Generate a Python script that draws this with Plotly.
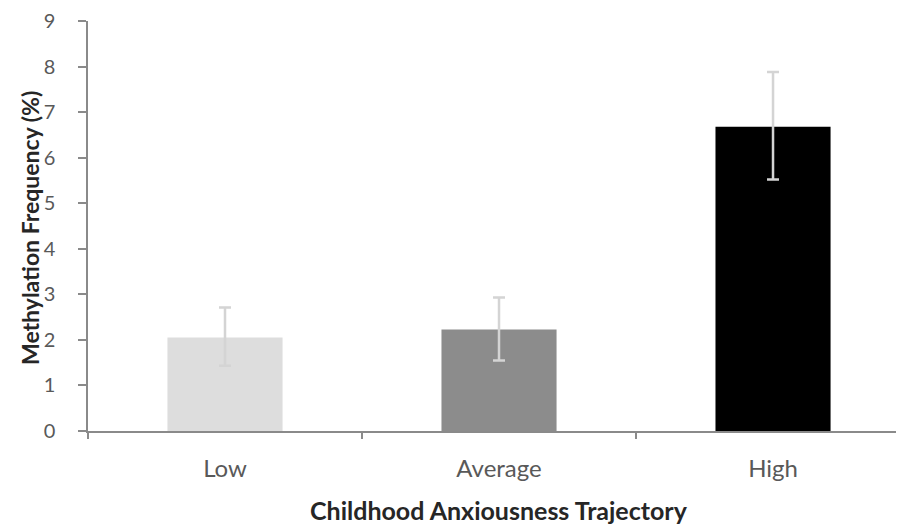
import plotly.graph_objects as go

categories = ["Low", "Average", "High"]
values = [2.05, 2.23, 6.68]
err_plus = [0.66, 0.70, 1.20]
err_minus = [0.62, 0.68, 1.16]
bar_colors = ["#dddddd", "#8c8c8c", "#000000"]
y_ticks = [0, 1, 2, 3, 4, 5, 6, 7, 8, 9]
x_title = "Childhood Anxiousness Trajectory"
y_title = "Methylation Frequency (%)"

W, H = 904, 528
OFF = 8  # page body offset
L, T, R, B = 88 - OFF, 21 - OFF, OFF, H - (431 - OFF)
PW, PH = W - L - R, H - T - B

fig = go.Figure()
fig.add_trace(go.Bar(
    x=categories, y=values,
    marker=dict(color=bar_colors, line=dict(width=0)),
    width=0.42,
    error_y=dict(type="data", symmetric=False, array=err_plus, arrayminus=err_minus,
                 color="#d4d4d4", thickness=2.5, width=6),
))

fig.update_layout(
    width=W, height=H,
    margin=dict(l=L, r=R, t=T, b=B, autoexpand=False),
    paper_bgcolor="white", plot_bgcolor="white",
    showlegend=False,
    font=dict(family="Lato", color="#595959", size=22),
    xaxis=dict(
        range=[-0.5, 2.478], automargin=False,
        tickson="boundaries", ticks="outside", ticklen=6, tickcolor="#8a8a8a", tickwidth=1.5,
        showline=True, linecolor="#8a8a8a", linewidth=1.5,
        showgrid=False, zeroline=False,
        tickfont=dict(size=24, color="#595959"),
        ticklabelstandoff=15,
    ),
    yaxis=dict(
        range=[0, 9], tickvals=y_ticks, automargin=False,
        ticks="outside", ticklen=8, tickcolor="#8a8a8a", tickwidth=1.5,
        showline=True, linecolor="#8a8a8a", linewidth=1.5,
        showgrid=False, zeroline=False,
        tickfont=dict(size=20, color="#595959"),
        ticklabelstandoff=19, ticklabeloverflow="allow",
    ),
    annotations=[
        dict(text="<b>" + x_title + "</b>", xref="paper", yref="paper",
             x=(499 - OFF - L) / PW, y=-(510 - 431) / PH,
             xanchor="center", yanchor="middle", showarrow=False,
             font=dict(size=25, color="#262626", family="Lato")),
        dict(text="<b>" + y_title + "</b>", xref="paper", yref="paper",
             x=-(88 - 30) / PW, y=(431 - 228) / PH, textangle=-90,
             xanchor="center", yanchor="middle", showarrow=False,
             font=dict(size=23, color="#262626", family="Lato")),
    ],
)

fig.write_html("out.html")
